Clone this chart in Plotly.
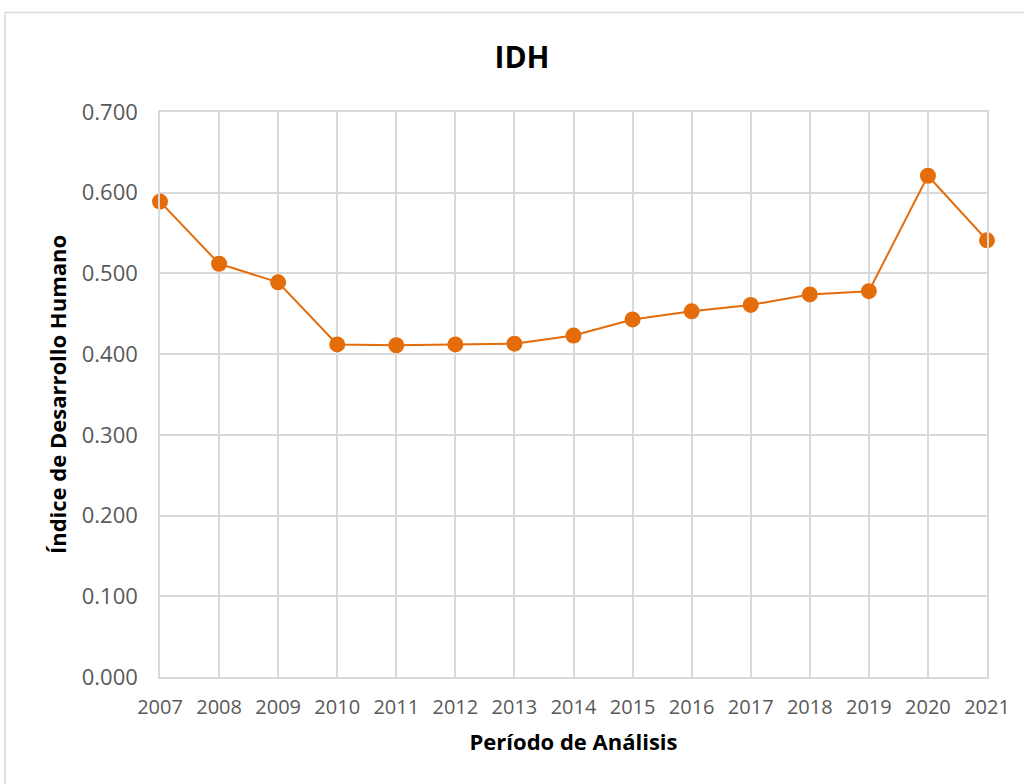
import plotly.graph_objects as go

years = [2007, 2008, 2009, 2010, 2011, 2012, 2013, 2014, 2015, 2016, 2017, 2018, 2019, 2020, 2021]
idh = [0.589, 0.512, 0.489, 0.412, 0.411, 0.412, 0.413, 0.423, 0.443, 0.453, 0.461, 0.474, 0.478, 0.621, 0.541]

title_text = "IDH"
x_title = "Período de Análisis"
y_title = "Índice de Desarrollo Humano"

ORANGE = "#E46C0A"
GRID = "#D9D9D9"
TICK = "#595959"
FONT = "Open Sans"

fig = go.Figure()
fig.add_trace(go.Scatter(
    x=years, y=idh, mode="lines+markers",
    line=dict(color=ORANGE, width=2),
    marker=dict(color=ORANGE, size=16),
    cliponaxis=False,
    showlegend=False,
))

W, H = 1024, 784
L, R, T, B = 160, 37, 112, 107

fig.update_layout(
    width=W, height=H,
    margin=dict(l=L, r=R, t=T, b=B),
    paper_bgcolor="white", plot_bgcolor="white",
    font=dict(family=FONT, color=TICK),
    title=dict(text="<b>%s</b>" % title_text, x=522 / W, xanchor="center",
               y=1 - 57 / H, yanchor="middle",
               font=dict(family=FONT, size=30, color="black")),
    xaxis=dict(
        range=[years[0], years[-1]],
        tickmode="array", tickvals=years, ticktext=[str(y) for y in years],
        showgrid=True, gridcolor=GRID, gridwidth=1.5,
        showline=True, linecolor=GRID, linewidth=1.5, mirror=True,
        zeroline=False, ticks="", ticklabelstandoff=11,
        tickfont=dict(family=FONT, size=20, color=TICK),
        title=dict(text="<b>%s</b>" % x_title, standoff=16,
                   font=dict(family=FONT, size=22, color="black")),
    ),
    yaxis=dict(
        range=[0, 0.7], dtick=0.1, tickformat=".3f",
        showgrid=True, gridcolor=GRID, gridwidth=1.5,
        showline=True, linecolor=GRID, linewidth=1.5, mirror=True,
        zeroline=False, ticks="", ticklabelstandoff=16,
        tickfont=dict(family=FONT, size=22, color=TICK),
        title=dict(text="<b>%s</b>" % y_title, standoff=9,
                   font=dict(family=FONT, size=22, color="black")),
    ),
)

pw = W - L - R
ph = H - T - B
fig.add_shape(type="rect", xref="paper", yref="paper",
              x0=(5 - L) / pw, x1=(W + 20 - L) / pw,
              y0=-(B + 20) / ph, y1=(H - B - 12.5) / ph,
              line=dict(color=GRID, width=1.5), fillcolor="rgba(0,0,0,0)", layer="below")

fig.write_html("out.html", config={"displayModeBar": False},
               post_script="document.body.style.margin='0';")
